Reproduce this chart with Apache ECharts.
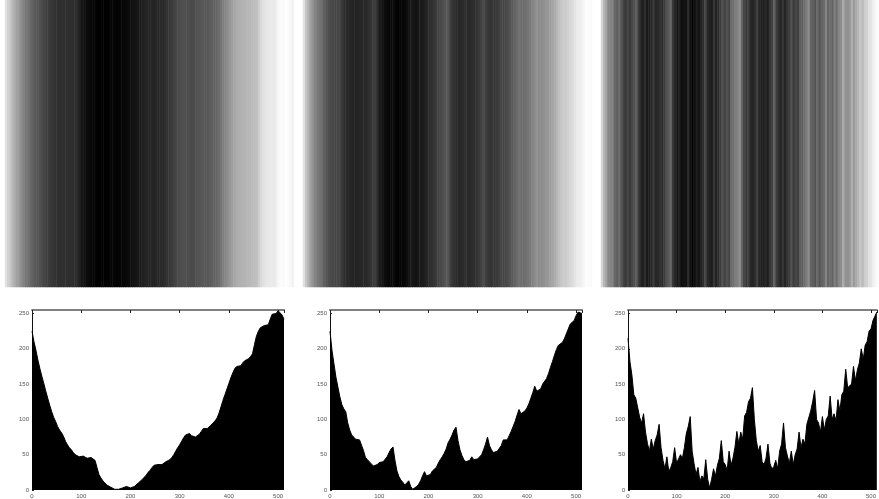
<!DOCTYPE html>
<html lang="en">
<head>
<meta charset="utf-8">
<title>Column profiles</title>
<style>
    html, body { margin: 0; padding: 0; background: #fff; overflow: hidden; }
    #chart { width: 879px; height: 499px; filter: blur(0.35px); }
</style>
</head>
<body>
<div id="chart"></div>
<script src="https://cdn.jsdelivr.net/npm/echarts@6/dist/echarts.min.js"></script>
<script>
// column intensity, one value every 4 columns
var profileA = [225,210,198,184,172,161,151,140,130,120,111,103,97,90,85,81,76,69,64,60,57,53,50,48,47,47,48,47,45,47,46,45,42,32,22,17,13,10,7,5,4,2,1,1,1,2,3,5,5,4,3,4,5,7,10,12,15,18,21,25,28,32,35,37,36,37,36,38,40,41,43,46,50,55,60,64,69,74,78,80,80,77,75,75,76,79,83,87,88,87,87,92,95,98,102,109,118,127,135,143,151,159,166,172,175,176,176,180,183,184,186,189,193,206,218,225,230,232,233,234,234,242,249,251,250,254,252,248,242];
var profileB = [225,198,179,160,146,132,121,115,111,95,85,78,75,72,70,71,72,56,46,43,42,37,34,35,36,39,39,40,41,47,53,58,61,42,27,19,14,11,7,9,13,5,1,3,5,8,13,20,26,20,18,22,27,27,32,38,43,47,52,58,67,72,78,85,89,70,57,49,43,40,41,42,47,43,42,44,46,50,57,65,75,63,57,53,53,55,57,63,71,70,71,77,83,90,97,106,114,108,109,112,116,122,130,138,147,140,139,143,150,152,158,165,174,182,191,199,205,204,209,214,221,228,235,237,240,247,252,252,250];
var profileC = [215,182,163,135,130,132,103,95,108,82,66,55,72,58,70,78,93,60,42,30,47,26,32,40,60,38,40,50,45,60,80,90,104,55,37,22,32,12,20,16,43,15,3,15,30,20,35,45,70,40,36,28,55,35,45,60,83,65,82,72,105,110,125,130,145,100,70,55,63,40,36,45,65,38,30,33,42,30,55,65,95,60,48,38,55,36,50,58,82,60,72,65,93,95,112,125,141,100,95,82,104,85,100,105,133,100,108,98,128,112,135,140,171,145,143,150,175,155,170,180,200,185,205,210,225,228,240,246,252];
var columnStep = 4;

var chart = echarts.init(document.getElementById('chart'), null, { renderer: 'canvas' });

var profiles = [profileA, profileB, profileC];
var stripLeft = [5, 303, 601];
var plotLeft = [32, 330, 628];

var grid = [], xAxis = [], yAxis = [], series = [], visualMap = [];

profiles.forEach(function (values, i) {
    var columns = values.map(function (v, k) { return String(k * columnStep); });

    // top strip: one row of cells, gray level = the value
    grid.push({ left: stripLeft[i], top: 0, width: 289, height: 287 });
    xAxis.push({ type: 'category', gridIndex: grid.length - 1, data: columns, show: false });
    yAxis.push({ type: 'category', gridIndex: grid.length - 1, data: ['r'], show: false });
    series.push({
        type: 'heatmap',
        xAxisIndex: xAxis.length - 1,
        yAxisIndex: yAxis.length - 1,
        data: values.map(function (v, k) { return [k, 0, v]; }),
        silent: true,
        progressive: 0,
        itemStyle: { borderWidth: 0 }
    });
    visualMap.push({
        show: false, min: 0, max: 255, seriesIndex: series.length - 1,
        inRange: { color: ['#000000', '#ffffff'] }
    });

    // bottom plot: same values as a filled profile
    grid.push({ left: plotLeft[i], top: 310, width: 252, height: 181 });
    var axisText = { fontFamily: 'Liberation Sans', fontSize: 6, color: '#555555' };
    xAxis.push({
        type: 'value', gridIndex: grid.length - 1, min: 0, max: 512, interval: 100,
        axisLine: { show: false },
        axisTick: { show: false },
        axisLabel: Object.assign({ margin: 3, showMaxLabel: false }, axisText),
        splitLine: { show: false }
    });
    var bottomX = xAxis.length - 1;
    yAxis.push({
        type: 'value', gridIndex: grid.length - 1, min: 0, max: 255, interval: 50,
        axisLine: { show: true, lineStyle: { color: '#111', width: 1 } },
        axisTick: { show: true, inside: true, length: 2, lineStyle: { color: '#222' } },
        axisLabel: Object.assign({ margin: 3, showMaxLabel: false }, axisText),
        splitLine: { show: false }
    });
    var bottomY = yAxis.length - 1;
    // gray top edge with its ticks
    xAxis.push({
        type: 'value', gridIndex: grid.length - 1, position: 'top', min: 0, max: 512, interval: 100,
        axisLine: { show: true, lineStyle: { color: '#808080', width: 2 } },
        axisTick: { show: true, inside: true, length: 3, lineStyle: { color: '#222' } },
        axisLabel: { show: false },
        splitLine: { show: false }
    });
    series.push({
        type: 'line',
        xAxisIndex: bottomX,
        yAxisIndex: bottomY,
        data: values.map(function (v, k) { return [k * columnStep, v]; }),
        symbol: 'none',
        silent: true,
        animation: false,
        lineStyle: { color: '#000', width: 1 },
        areaStyle: { color: '#000', opacity: 1 }
    });
});

chart.setOption({
    animation: false,
    backgroundColor: '#fff',
    tooltip: { show: false },
    grid: grid,
    xAxis: xAxis,
    yAxis: yAxis,
    visualMap: visualMap,
    series: series
});
</script>
</body>
</html>
